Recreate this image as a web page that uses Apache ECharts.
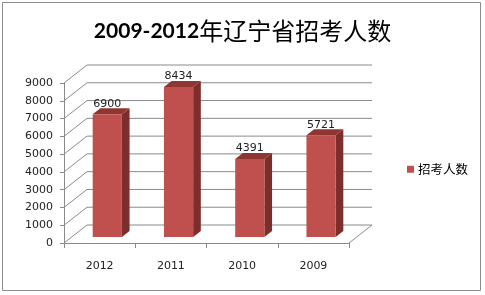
<!DOCTYPE html>
<html><head><meta charset="utf-8">
<script src="https://cdn.jsdelivr.net/npm/echarts@6/dist/echarts.min.js"></script>
<style>html,body{margin:0;padding:0;background:#fff}#c{width:485px;height:295px}</style>
</head><body><div id="c"></div>
<script>
var titleYears = '2009-2012';
var titleText = '年辽宁省招考人数';
var seriesName = '招考人数';
var categories = ['2012', '2011', '2010', '2009'];
var values = [6900, 8434, 4391, 5721];
var yTicks = [0, 1000, 2000, 3000, 4000, 5000, 6000, 7000, 8000, 9000];

var DX = 23, DY = -18; // depth of the back wall
var chart = echarts.init(document.getElementById('c'), null, {renderer: 'canvas'});

function gridItem(params, api) {
  var cs = params.coordSys;
  var p = api.coord([0, api.value(0)]);
  var y = p[1];
  var x0 = cs.x, x1 = cs.x + cs.width;
  return {
    type: 'polyline',
    shape: {points: [[x0, y], [x0 + DX, y + DY], [x1 + DX, y + DY]]},
    style: {stroke: '#8a8a8a', lineWidth: 1, fill: null},
    silent: true
  };
}
function floorItem(params, api) {
  var cs = params.coordSys;
  var p = api.coord([0, 0]);
  var x1 = cs.x + cs.width;
  return {
    type: 'line',
    shape: {x1: x1, y1: p[1], x2: x1 + DX, y2: p[1] + DY},
    style: {stroke: '#8a8a8a', lineWidth: 1},
    silent: true
  };
}
function barItem(params, api) {
  var idx = api.value(0), v = api.value(1);
  var base = api.coord([idx, 0]);
  var top = api.coord([idx, v]);
  var bw = api.size([1, 0])[0] * 0.41;
  var fx = DX / 3, fy = DY / 3; // front face offset
  var sx = DX / 3, sy = DY / 3; // bar depth
  var cx = base[0] + fx;
  var xl = cx - bw / 2, xr = cx + bw / 2;
  var yb = base[1] + fy, yt = top[1] + fy;
  return {
    type: 'group',
    children: [
      {type: 'polygon', shape: {points: [[xr, yb], [xr + sx, yb + sy], [xr + sx, yt + sy], [xr, yt]]},
        style: {fill: '#7b2e2c'}},
      {type: 'polygon', shape: {points: [[xl, yt], [xr, yt], [xr + sx, yt + sy], [xl + sx, yt + sy]]},
        style: {fill: '#8f3532'}},
      {type: 'rect', shape: {x: xl, y: yt, width: bw, height: yb - yt},
        style: {fill: '#c0504d'}},
      {type: 'text', style: {text: String(v), x: cx, y: yt + sy + 1,
        textAlign: 'center', textVerticalAlign: 'bottom',
        font: '11px "DejaVu Sans"', fill: '#222'}}
    ]
  };
}

chart.setOption({
  animation: false,
  title: {
    text: '{a|' + titleYears + '}{b|' + titleText + '}',
    left: 'center', top: 14,
    textStyle: {
      rich: {
        a: {fontFamily: 'Lato', fontWeight: 'bold', fontSize: 21, color: '#000'},
        b: {fontFamily: '"Noto Sans CJK SC"', fontWeight: 'normal', fontSize: 24, color: '#000'}
      }
    }
  },
  legend: {
    data: [{name: seriesName, icon: 'rect'}],
    left: 402, top: 158, itemWidth: 7, itemHeight: 7, itemGap: 4,
    textStyle: {fontFamily: '"Noto Sans CJK SC"', fontSize: 12.5, color: '#000', padding: [0, 0, 0, -1]}
  },
  graphic: [{
    type: 'rect', shape: {x: 2.5, y: 2.5, width: 478, height: 288},
    style: {fill: null, stroke: '#8c8c8c', lineWidth: 1}, silent: true, z: 100
  }],
  grid: {left: 64, top: 83, width: 285, height: 160},
  xAxis: {
    type: 'category', data: categories,
    axisLine: {lineStyle: {color: '#8a8a8a'}},
    axisTick: {show: true, length: 5, lineStyle: {color: '#8a8a8a'}},
    axisLabel: {margin: 18, fontFamily: 'DejaVu Sans', fontSize: 11, color: '#222'}
  },
  yAxis: {
    type: 'value', min: 0, max: 9000, interval: 1000,
    splitLine: {show: false},
    axisLine: {show: true, lineStyle: {color: '#8a8a8a'}},
    axisTick: {show: true, length: 4, lineStyle: {color: '#8a8a8a'}},
    axisLabel: {margin: 11, fontFamily: 'DejaVu Sans', fontSize: 11, color: '#222',
      formatter: function (v) { return String(v); }}
  },
  series: [
    {type: 'custom', name: 'grid', renderItem: gridItem, data: yTicks.map(function (t) { return [t]; }),
      encode: {y: 0}, z: 1, silent: true},
    {type: 'custom', name: 'floor', renderItem: floorItem, data: [[0]], encode: {y: 0}, z: 1, silent: true},
    {type: 'custom', name: seriesName, renderItem: barItem,
      itemStyle: {color: '#c0504d'},
      data: values.map(function (v, i) { return [i, v]; }),
      encode: {x: 0, y: 1}, z: 5}
  ]
});
</script></body></html>
